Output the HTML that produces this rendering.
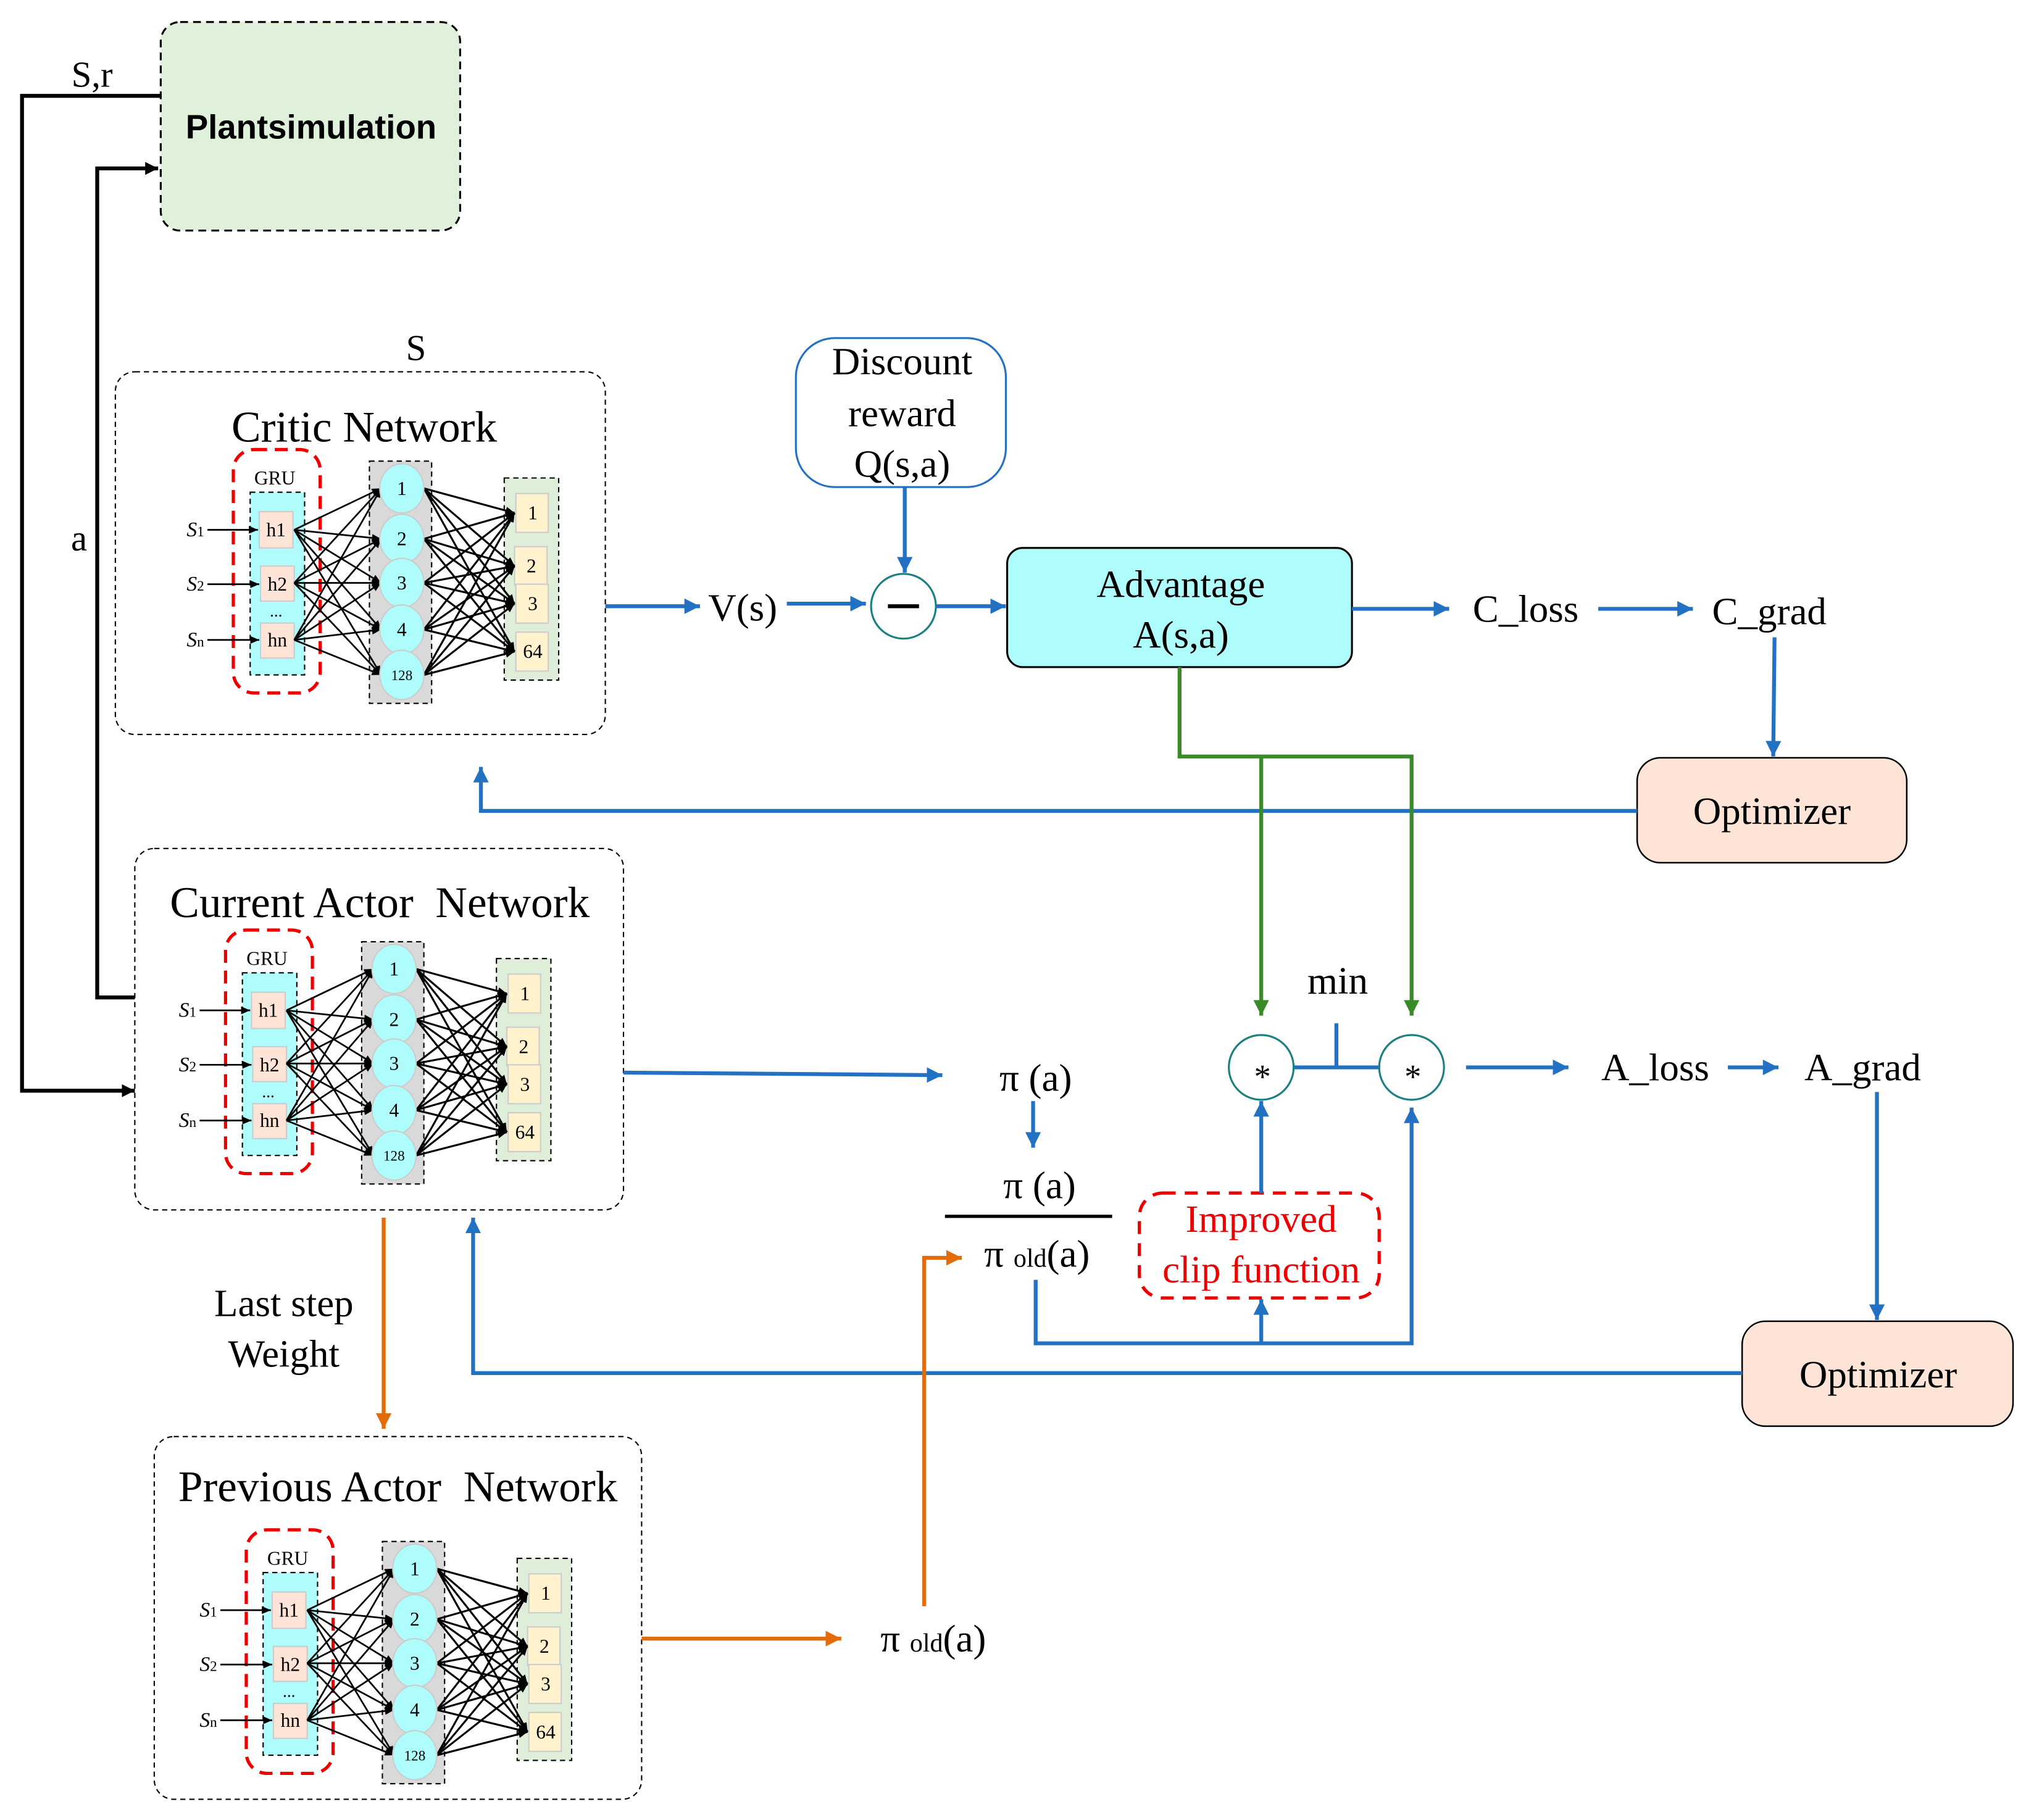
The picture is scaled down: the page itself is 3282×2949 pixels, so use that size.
<!DOCTYPE html>
<html><head><meta charset="utf-8"><style>
html,body{margin:0;padding:0;background:#fff}
svg{display:block}
text{font-family:"Liberation Serif",serif}
</style></head><body>
<svg width="3282" height="2949" viewBox="0 0 1563 1405" preserveAspectRatio="none" xmlns="http://www.w3.org/2000/svg">
<defs>
<marker id="ab" markerWidth="14" markerHeight="12" refX="12" refY="6" orient="auto" markerUnits="userSpaceOnUse"><path d="M0,0 L12,6 L0,12 z" fill="#2271c3"/></marker>
<marker id="ag" markerWidth="14" markerHeight="12" refX="12" refY="6" orient="auto" markerUnits="userSpaceOnUse"><path d="M0,0 L12,6 L0,12 z" fill="#3a8a2a"/></marker>
<marker id="ao" markerWidth="14" markerHeight="12" refX="12" refY="6" orient="auto" markerUnits="userSpaceOnUse"><path d="M0,0 L12,6 L0,12 z" fill="#e36c0a"/></marker>
<marker id="ak" markerWidth="12" markerHeight="10" refX="10" refY="5" orient="auto" markerUnits="userSpaceOnUse"><path d="M0,0 L10,5 L0,10 z" fill="#000"/></marker>
<marker id="as" markerWidth="8" markerHeight="8" refX="7" refY="4" orient="auto" markerUnits="userSpaceOnUse"><path d="M0,1 L7,4 L0,7 z" fill="#000"/></marker>
<g id="net">
  <rect x="180" y="347" width="67" height="188" rx="16" fill="none" stroke="#e00" stroke-width="2.5" stroke-dasharray="10,6"/>
  <text x="212" y="374" font-size="15" text-anchor="middle">GRU</text>
  <rect x="193" y="380" width="42" height="141" fill="#aefcfc" stroke="#000" stroke-width="1" stroke-dasharray="4,3"/>
  <rect x="285" y="356" width="48" height="187" fill="#d9d9d9" stroke="#000" stroke-width="1" stroke-dasharray="4,3"/>
  <rect x="389" y="369" width="42" height="156" fill="#deeed8" stroke="#000" stroke-width="1" stroke-dasharray="4,3"/>
  <g fill="#fde4d6" stroke="#ccc" stroke-width="1">
    <rect x="200" y="395" width="26" height="28"/><rect x="201" y="437" width="26" height="27"/><rect x="201" y="481" width="26" height="27"/>
  </g>
  <g fill="#fff2cc" stroke="#ccc" stroke-width="1">
    <rect x="398" y="381" width="25" height="30"/><rect x="397" y="422" width="25" height="30"/><rect x="398" y="451" width="25" height="30"/><rect x="398" y="488" width="25" height="30"/>
  </g>
  <g stroke="#000" stroke-width="1.3" marker-end="url(#as)">
    <line x1="160" y1="409" x2="199" y2="409"/><line x1="160" y1="451" x2="200" y2="451"/><line x1="160" y1="494" x2="200" y2="494"/>
    <line x1="227" y1="409" x2="294" y2="377"/><line x1="227" y1="409" x2="294" y2="416"/><line x1="227" y1="409" x2="294" y2="450"/><line x1="227" y1="409" x2="294" y2="486"/><line x1="227" y1="409" x2="294" y2="521"/>
    <line x1="227" y1="450" x2="294" y2="377"/><line x1="227" y1="450" x2="294" y2="416"/><line x1="227" y1="450" x2="294" y2="450"/><line x1="227" y1="450" x2="294" y2="486"/><line x1="227" y1="450" x2="294" y2="521"/>
    <line x1="227" y1="494" x2="294" y2="377"/><line x1="227" y1="494" x2="294" y2="416"/><line x1="227" y1="494" x2="294" y2="450"/><line x1="227" y1="494" x2="294" y2="486"/><line x1="227" y1="494" x2="294" y2="521"/>
  </g>
  <g stroke="#000" stroke-width="1.5" marker-end="url(#as)">
    <line x1="327" y1="377" x2="397" y2="396"/><line x1="327" y1="377" x2="397" y2="437"/><line x1="327" y1="377" x2="397" y2="466"/><line x1="327" y1="377" x2="397" y2="503"/>
    <line x1="327" y1="416" x2="397" y2="396"/><line x1="327" y1="416" x2="397" y2="437"/><line x1="327" y1="416" x2="397" y2="466"/><line x1="327" y1="416" x2="397" y2="503"/>
    <line x1="327" y1="450" x2="397" y2="396"/><line x1="327" y1="450" x2="397" y2="437"/><line x1="327" y1="450" x2="397" y2="466"/><line x1="327" y1="450" x2="397" y2="503"/>
    <line x1="327" y1="486" x2="397" y2="396"/><line x1="327" y1="486" x2="397" y2="437"/><line x1="327" y1="486" x2="397" y2="466"/><line x1="327" y1="486" x2="397" y2="503"/>
    <line x1="327" y1="521" x2="397" y2="396"/><line x1="327" y1="521" x2="397" y2="437"/><line x1="327" y1="521" x2="397" y2="466"/><line x1="327" y1="521" x2="397" y2="503"/>
  </g>
  <g fill="#aefcfc" stroke="#ccc" stroke-width="1">
    <ellipse cx="310" cy="377" rx="17" ry="19"/><ellipse cx="310" cy="416" rx="17" ry="19"/><ellipse cx="310" cy="450" rx="17" ry="19"/><ellipse cx="310" cy="486" rx="17" ry="19"/><ellipse cx="310" cy="521" rx="17" ry="19"/>
  </g>
  <g font-size="15" text-anchor="middle">
    <text x="310" y="382">1</text><text x="310" y="421">2</text><text x="310" y="455">3</text><text x="310" y="491">4</text><text x="310" y="525" font-size="11">128</text>
    <text x="411" y="401">1</text><text x="410" y="442">2</text><text x="411" y="471">3</text><text x="411" y="508">64</text>
    <text x="213" y="414">h1</text><text x="214" y="456">h2</text><text x="214" y="499">hn</text>
    <text x="213" y="476" font-size="13">...</text>
  </g>
  <g font-size="16" font-style="italic">
    <text x="144" y="414">S<tspan font-size="11" font-style="normal">1</tspan></text>
    <text x="144" y="456">S<tspan font-size="11" font-style="normal">2</tspan></text>
    <text x="144" y="499">S<tspan font-size="11" font-style="normal">n</tspan></text>
  </g>
</g>
</defs>

<!-- Plantsimulation -->
<rect x="124" y="17" width="231" height="161" rx="15" fill="#dff0db" stroke="#000" stroke-width="1.5" stroke-dasharray="6,4"/>
<text x="240" y="107" font-size="26" font-weight="bold" text-anchor="middle" style="font-family:'Liberation Sans',sans-serif">Plantsimulation</text>
<text x="71" y="67" font-size="28" text-anchor="middle">S,r</text>
<polyline points="124,74 17,74 17,842 104,842" fill="none" stroke="#000" stroke-width="3" marker-end="url(#ak)"/>
<polyline points="104,770 75,770 75,130 122,130" fill="none" stroke="#000" stroke-width="3" marker-end="url(#ak)"/>
<text x="61" y="425" font-size="28" text-anchor="middle">a</text>
<text x="321" y="278" font-size="28" text-anchor="middle">S</text>

<!-- Network boxes -->
<rect x="89" y="287" width="378" height="280" rx="15" fill="none" stroke="#000" stroke-width="1" stroke-dasharray="4,3"/>
<text x="281" y="341" font-size="34" text-anchor="middle">Critic Network</text>
<use href="#net"/>

<rect x="104" y="655" width="377" height="279" rx="15" fill="none" stroke="#000" stroke-width="1" stroke-dasharray="4,3"/>
<text x="293" y="708" font-size="34" text-anchor="middle" xml:space="preserve">Current Actor  Network</text>
<use href="#net" transform="translate(-6,371)"/>

<rect x="119" y="1109" width="376" height="280" rx="15" fill="none" stroke="#000" stroke-width="1" stroke-dasharray="4,3"/>
<text x="307" y="1159" font-size="34" text-anchor="middle" xml:space="preserve">Previous Actor  Network</text>
<use href="#net" transform="translate(10,834)"/>

<!-- Critic path -->
<rect x="614" y="261" width="162" height="115" rx="30" fill="#fff" stroke="#2271c3" stroke-width="1.5"/>
<g font-size="30" text-anchor="middle"><text x="696" y="289">Discount</text><text x="696" y="329">reward</text><text x="696" y="368">Q(s,a)</text></g>
<line x1="698" y1="376" x2="698" y2="442" stroke="#2271c3" stroke-width="3" marker-end="url(#ab)"/>
<circle cx="697" cy="468" r="25" fill="#fff" stroke="#1a8080" stroke-width="1.5"/>
<line x1="685" y1="468" x2="709" y2="468" stroke="#000" stroke-width="3"/>
<line x1="467" y1="468" x2="540" y2="468" stroke="#2271c3" stroke-width="3" marker-end="url(#ab)"/>
<text x="573" y="479" font-size="30" text-anchor="middle">V(s)</text>
<line x1="607" y1="466" x2="668" y2="466" stroke="#2271c3" stroke-width="3" marker-end="url(#ab)"/>
<line x1="722" y1="468" x2="776" y2="468" stroke="#2271c3" stroke-width="3" marker-end="url(#ab)"/>
<rect x="777" y="423" width="266" height="92" rx="12" fill="#aefcfc" stroke="#000" stroke-width="1.5"/>
<g font-size="30" text-anchor="middle"><text x="911" y="461">Advantage</text><text x="911" y="500">A(s,a)</text></g>
<line x1="1043" y1="470" x2="1118" y2="470" stroke="#2271c3" stroke-width="3" marker-end="url(#ab)"/>
<text x="1177" y="480" font-size="30" text-anchor="middle">C_loss</text>
<line x1="1233" y1="470" x2="1306" y2="470" stroke="#2271c3" stroke-width="3" marker-end="url(#ab)"/>
<text x="1365" y="482" font-size="30" text-anchor="middle">C_grad</text>
<line x1="1369" y1="492" x2="1368" y2="584" stroke="#2271c3" stroke-width="3" marker-end="url(#ab)"/>
<rect x="1263" y="585" width="208" height="81" rx="18" fill="#fde4d6" stroke="#000" stroke-width="1.2"/>
<text x="1367" y="636" font-size="30" text-anchor="middle">Optimizer</text>
<polyline points="1263,626 371,626 371,592" fill="none" stroke="#2271c3" stroke-width="3" marker-end="url(#ab)"/>

<!-- Green -->
<polyline points="910,515 910,584 1089,584 1089,784" fill="none" stroke="#3a8a2a" stroke-width="3" marker-end="url(#ag)"/>
<line x1="973" y1="584" x2="973" y2="784" stroke="#3a8a2a" stroke-width="3" marker-end="url(#ag)"/>
<text x="1032" y="767" font-size="30" text-anchor="middle">min</text>
<line x1="998" y1="824" x2="1064" y2="824" stroke="#2271c3" stroke-width="3"/>
<line x1="1031" y1="790" x2="1031" y2="824" stroke="#2271c3" stroke-width="3"/>
<circle cx="973" cy="824" r="25" fill="#fff" stroke="#1a8080" stroke-width="1.5"/>
<circle cx="1089" cy="824" r="25" fill="#fff" stroke="#1a8080" stroke-width="1.5"/>
<text x="974" y="840" font-size="26" text-anchor="middle">*</text>
<text x="1090" y="840" font-size="26" text-anchor="middle">*</text>
<line x1="1131" y1="824" x2="1210" y2="824" stroke="#2271c3" stroke-width="3" marker-end="url(#ab)"/>
<text x="1277" y="834" font-size="30" text-anchor="middle">A_loss</text>
<line x1="1333" y1="824" x2="1372" y2="824" stroke="#2271c3" stroke-width="3" marker-end="url(#ab)"/>
<text x="1437" y="834" font-size="30" text-anchor="middle">A_grad</text>
<line x1="1448" y1="843" x2="1448" y2="1019" stroke="#2271c3" stroke-width="3" marker-end="url(#ab)"/>
<rect x="1344" y="1020" width="209" height="81" rx="18" fill="#fde4d6" stroke="#000" stroke-width="1.2"/>
<text x="1449" y="1071" font-size="30" text-anchor="middle">Optimizer</text>
<polyline points="1344,1060 365,1060 365,940" fill="none" stroke="#2271c3" stroke-width="3" marker-end="url(#ab)"/>

<!-- Actor ratio -->
<line x1="481" y1="828" x2="727" y2="830" stroke="#2271c3" stroke-width="3" marker-end="url(#ab)"/>
<text x="799" y="842" font-size="30" text-anchor="middle">π (a)</text>
<line x1="797" y1="850" x2="797" y2="886" stroke="#2271c3" stroke-width="3" marker-end="url(#ab)"/>
<text x="802" y="925" font-size="30" text-anchor="middle">π (a)</text>
<line x1="729" y1="939" x2="858" y2="939" stroke="#000" stroke-width="2.5"/>
<text x="800" y="978" font-size="30" text-anchor="middle">π <tspan font-size="20">old</tspan>(a)</text>
<rect x="879" y="921" width="185" height="81" rx="18" fill="none" stroke="#e00" stroke-width="2.5" stroke-dasharray="10,7"/>
<g font-size="30" text-anchor="middle" fill="#e00"><text x="973" y="951">Improved</text><text x="973" y="990">clip function</text></g>
<line x1="973" y1="921" x2="973" y2="850" stroke="#2271c3" stroke-width="3" marker-end="url(#ab)"/>
<polyline points="799,988 799,1037 1089,1037 1089,855" fill="none" stroke="#2271c3" stroke-width="3" marker-end="url(#ab)"/>
<line x1="973" y1="1037" x2="973" y2="1003" stroke="#2271c3" stroke-width="3" marker-end="url(#ab)"/>

<!-- Orange -->
<line x1="296" y1="940" x2="296" y2="1103" stroke="#e36c0a" stroke-width="3" marker-end="url(#ao)"/>
<g font-size="30" text-anchor="middle"><text x="219" y="1016">Last step</text><text x="219" y="1055">Weight</text></g>
<line x1="495" y1="1265" x2="649" y2="1265" stroke="#e36c0a" stroke-width="3" marker-end="url(#ao)"/>
<text x="720" y="1275" font-size="30" text-anchor="middle">π <tspan font-size="20">old</tspan>(a)</text>
<polyline points="713,1240 713,971 742,971" fill="none" stroke="#e36c0a" stroke-width="3" marker-end="url(#ao)"/>
</svg>
</body></html>
